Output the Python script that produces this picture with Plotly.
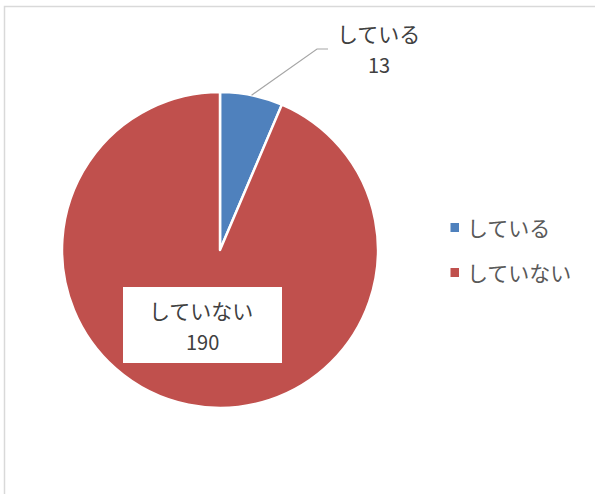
import math
import plotly.graph_objects as go

labels = ["している", "していない"]
values = [13, 190]
colors = ["#4F81BD", "#C0504D"]

W, H = 595, 494
cx, cy, r = 220, 250, 158
FONT = "Noto Sans CJK JP"
TXT = "#404040"

fig = go.Figure(go.Pie(
    labels=labels, values=values, sort=False, direction="clockwise", rotation=0,
    marker=dict(colors=colors, line=dict(color="white", width=2.5)),
    textinfo="none", hoverinfo="label+value", showlegend=False,
    domain=dict(x=[(cx - r) / W, (cx + r) / W], y=[1 - (cy + r) / H, 1 - (cy - r) / H]),
))

total = sum(values)
mid = values[0] / 2 / total * 2 * math.pi
sx, sy = cx + r * math.sin(mid), cy - r * math.cos(mid)
def px(x): return x / W
def py(y): return 1 - y / H

shapes = [
    dict(type="rect", xref="paper", yref="paper", x0=px(4.5), y0=py(6.5), x1=px(620), y1=py(520),
         line=dict(color="#D9D9D9", width=1.5), fillcolor="rgba(0,0,0,0)", layer="below"),
    dict(type="path", xref="paper", yref="paper",
         path=f"M {px(sx)} {py(sy)} L {px(317)} {py(49)} L {px(328)} {py(49)}",
         line=dict(color="#A6A6A6", width=1.2)),
    dict(type="rect", xref="paper", yref="paper", x0=px(123), y0=py(287), x1=px(282), y1=py(363),
         fillcolor="white", line=dict(width=0)),
]

def ann(x, y, text, size=20, color=TXT, xanchor="center"):
    return dict(x=px(x), y=py(y), xref="paper", yref="paper", text=text, showarrow=False,
                xanchor=xanchor, yanchor="middle", font=dict(family=FONT, size=size, color=color))

annotations = [
    ann(378, 33, labels[0], 21),
    ann(379, 65, str(values[0]), 20),
    ann(201, 310, labels[1], 21),
    ann(202, 341, str(values[1]), 20),
]

# legend (drawn manually to match spacing)
leg_y = [227.5, 272.5]
for i, (lab, col) in enumerate(zip(labels, colors)):
    shapes.append(dict(type="rect", xref="paper", yref="paper",
                       x0=px(450.5), x1=px(459), y0=py(leg_y[i] - 4.5), y1=py(leg_y[i] + 4.5),
                       fillcolor=col, line=dict(width=0)))
    annotations.append(ann(465, leg_y[i] - 1, lab, 21, "#595959", xanchor="left"))

fig.update_layout(
    width=W, height=H, margin=dict(l=0, r=0, t=0, b=0),
    paper_bgcolor="white", plot_bgcolor="white",
    shapes=shapes, annotations=annotations,
    showlegend=False,
    font=dict(family=FONT),
)

fig.write_html("out.html", config={"displayModeBar": False},
               post_script="document.body.style.margin='0';document.body.style.padding='0';")
